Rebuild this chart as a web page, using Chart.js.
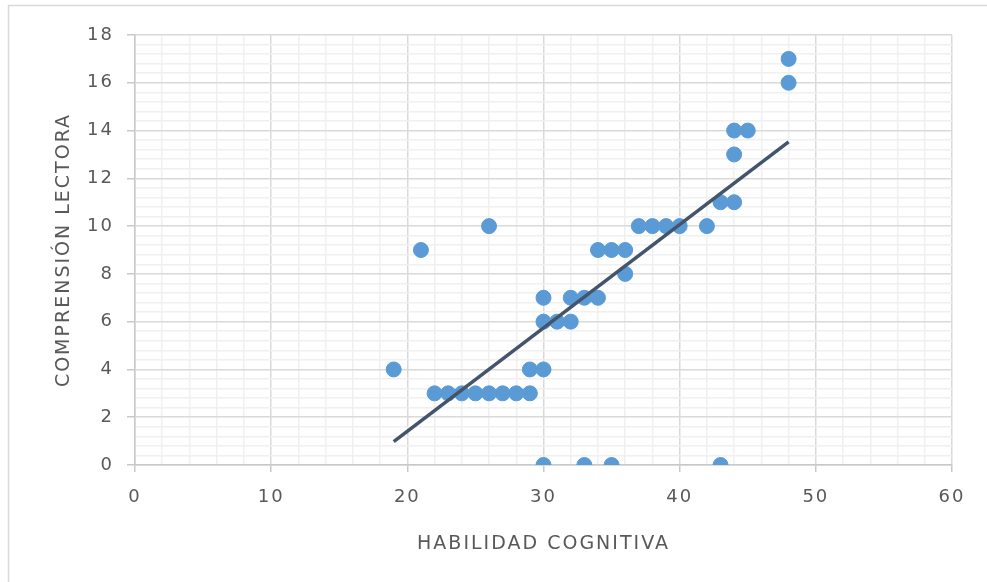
<!DOCTYPE html>
<html>
<head>
<meta charset="utf-8">
<script src="https://cdn.jsdelivr.net/npm/chart.js@4.4.0/dist/chart.umd.min.js"></script>
<style>
  html, body { margin: 0; padding: 0; background: #fff; }
  #wrap { width: 987px; height: 582px; position: relative; }
</style>
</head>
<body>
<div id="wrap"><canvas id="scatterChart" width="987" height="582"></canvas></div>
<script>
// data
const habilidad = [19, 21, 26, 22, 23, 24, 25, 26, 27, 28, 29, 29, 30, 30, 31, 32, 30, 32, 33, 34,
                   36, 34, 35, 36, 37, 38, 39, 40, 42, 30, 33, 35, 43, 43, 44, 44, 44, 45, 48, 48];
const comprension = [4, 9, 10, 3, 3, 3, 3, 3, 3, 3, 3, 4, 4, 6, 6, 6, 7, 7, 7, 7,
                     8, 9, 9, 9, 10, 10, 10, 10, 10, 0, 0, 0, 0, 11, 11, 13, 14, 14, 16, 17];

// linear trendline, ends
const trendX = [19, 48];
const trendY = [0.98, 13.53];

const xTickLabels = [0, 10, 20, 30, 40, 50, 60];
const yTickLabels = [0, 2, 4, 6, 8, 10, 12, 14, 16, 18];
const xMinorStep = 2;
const yMinorStep = 0.4;

const xTitle = 'HABILIDAD COGNITIVA';
const yTitle = 'COMPRENSIÓN LECTORA';

const trendPoints = trendX.map((x, i) => ({ x, y: trendY[i] }));
const scatterPoints = habilidad.map((x, i) => ({ x, y: comprension[i] }));

const majorGrid = '#D9D9D9';
const minorGrid = '#F0F0F0';
const textColor = '#595959';
const fontFamily = 'DejaVu Sans';

function isMajor(list, v) {
    return list.some(t => Math.abs(t - v) < 1e-6);
}

function buildTicks(list, step) {
    const lo = list[0], hi = list[list.length - 1];
    const count = Math.round((hi - lo) / step);
    const ticks = [];
    for (let i = 0; i <= count; i++) {
        ticks.push({ value: Math.round((lo + i * step) * 1000) / 1000 });
    }
    return ticks;
}

// outer frame of the chart object (top and left edges show in the picture)
// and the wide letter spacing of the original text
const framePlugin = {
    id: 'frame',
    beforeDraw(chart) {
        const ctx = chart.ctx;
        ctx.save();
        ctx.fillStyle = '#ffffff';
        ctx.fillRect(0, 0, chart.width, chart.height);
        ctx.strokeStyle = '#D9D9D9';
        ctx.lineWidth = 1.5;
        ctx.strokeRect(8.5, 5.5, chart.width + 20, chart.height + 20);
        ctx.restore();
        ctx.letterSpacing = '2px';
    }
};

document.addEventListener('DOMContentLoaded', () => {
    const ctx = document.getElementById('scatterChart');
    new Chart(ctx, {
        type: 'scatter',
        data: {
            datasets: [{
                type: 'line',
                label: 'Lineal',
                data: trendPoints,
                borderColor: '#44546A',
                borderWidth: 3.5,
                pointRadius: 0,
                fill: false,
                order: 0
            }, {
                label: 'Comprensión lectora',
                data: scatterPoints,
                backgroundColor: '#5B9BD5',
                borderColor: '#5B9BD5',
                pointRadius: 7.5,
                pointHoverRadius: 7.5,
                order: 1
            }]
        },
        options: {
            responsive: false,
            animation: false,
            events: [],
            layout: { padding: { top: 35, right: 35, left: 0, bottom: 0 } },
            plugins: {
                legend: { display: false },
                tooltip: { enabled: false }
            },
            scales: {
                x: {
                    type: 'linear',
                    min: xTickLabels[0],
                    max: xTickLabels[xTickLabels.length - 1],
                    afterBuildTicks: s => { s.ticks = buildTicks(xTickLabels, xMinorStep); },
                    afterFit: s => { s.height = 117; },
                    border: { color: '#C8C8C8', width: 1.5 },
                    grid: {
                        color: c => isMajor(xTickLabels, c.tick.value) ? majorGrid : minorGrid,
                        lineWidth: 1.5,
                        tickColor: c => isMajor(xTickLabels, c.tick.value) ? '#C8C8C8' : 'rgba(0,0,0,0)',
                        tickLength: 7
                    },
                    ticks: {
                        autoSkip: false,
                        maxRotation: 0,
                        padding: 15,
                        color: textColor,
                        font: { family: fontFamily, size: 18 },
                        callback: v => isMajor(xTickLabels, v) ? String(Math.round(v)) : ''
                    },
                    title: {
                        display: true,
                        text: xTitle,
                        color: textColor,
                        font: { family: fontFamily, size: 19 },
                        padding: { top: 0, bottom: 27 }
                    }
                },
                y: {
                    type: 'linear',
                    min: yTickLabels[0],
                    max: yTickLabels[yTickLabels.length - 1],
                    afterBuildTicks: s => { s.ticks = buildTicks(yTickLabels, yMinorStep); },
                    afterFit: s => { s.width = 135; },
                    border: { color: '#C8C8C8', width: 1.5 },
                    grid: {
                        color: c => isMajor(yTickLabels, c.tick.value) ? majorGrid : minorGrid,
                        lineWidth: 1.5,
                        tickColor: c => isMajor(yTickLabels, c.tick.value) ? '#C8C8C8' : 'rgba(0,0,0,0)',
                        tickLength: 8
                    },
                    ticks: {
                        autoSkip: false,
                        padding: 13,
                        color: textColor,
                        font: { family: fontFamily, size: 18 },
                        callback: v => isMajor(yTickLabels, v) ? String(Math.round(v)) : ''
                    },
                    title: {
                        display: true,
                        text: yTitle,
                        color: textColor,
                        font: { family: fontFamily, size: 19 },
                        padding: { top: 53, bottom: 0 }
                    }
                }
            }
        },
        plugins: [framePlugin]
    });
});
</script>
</body>
</html>
